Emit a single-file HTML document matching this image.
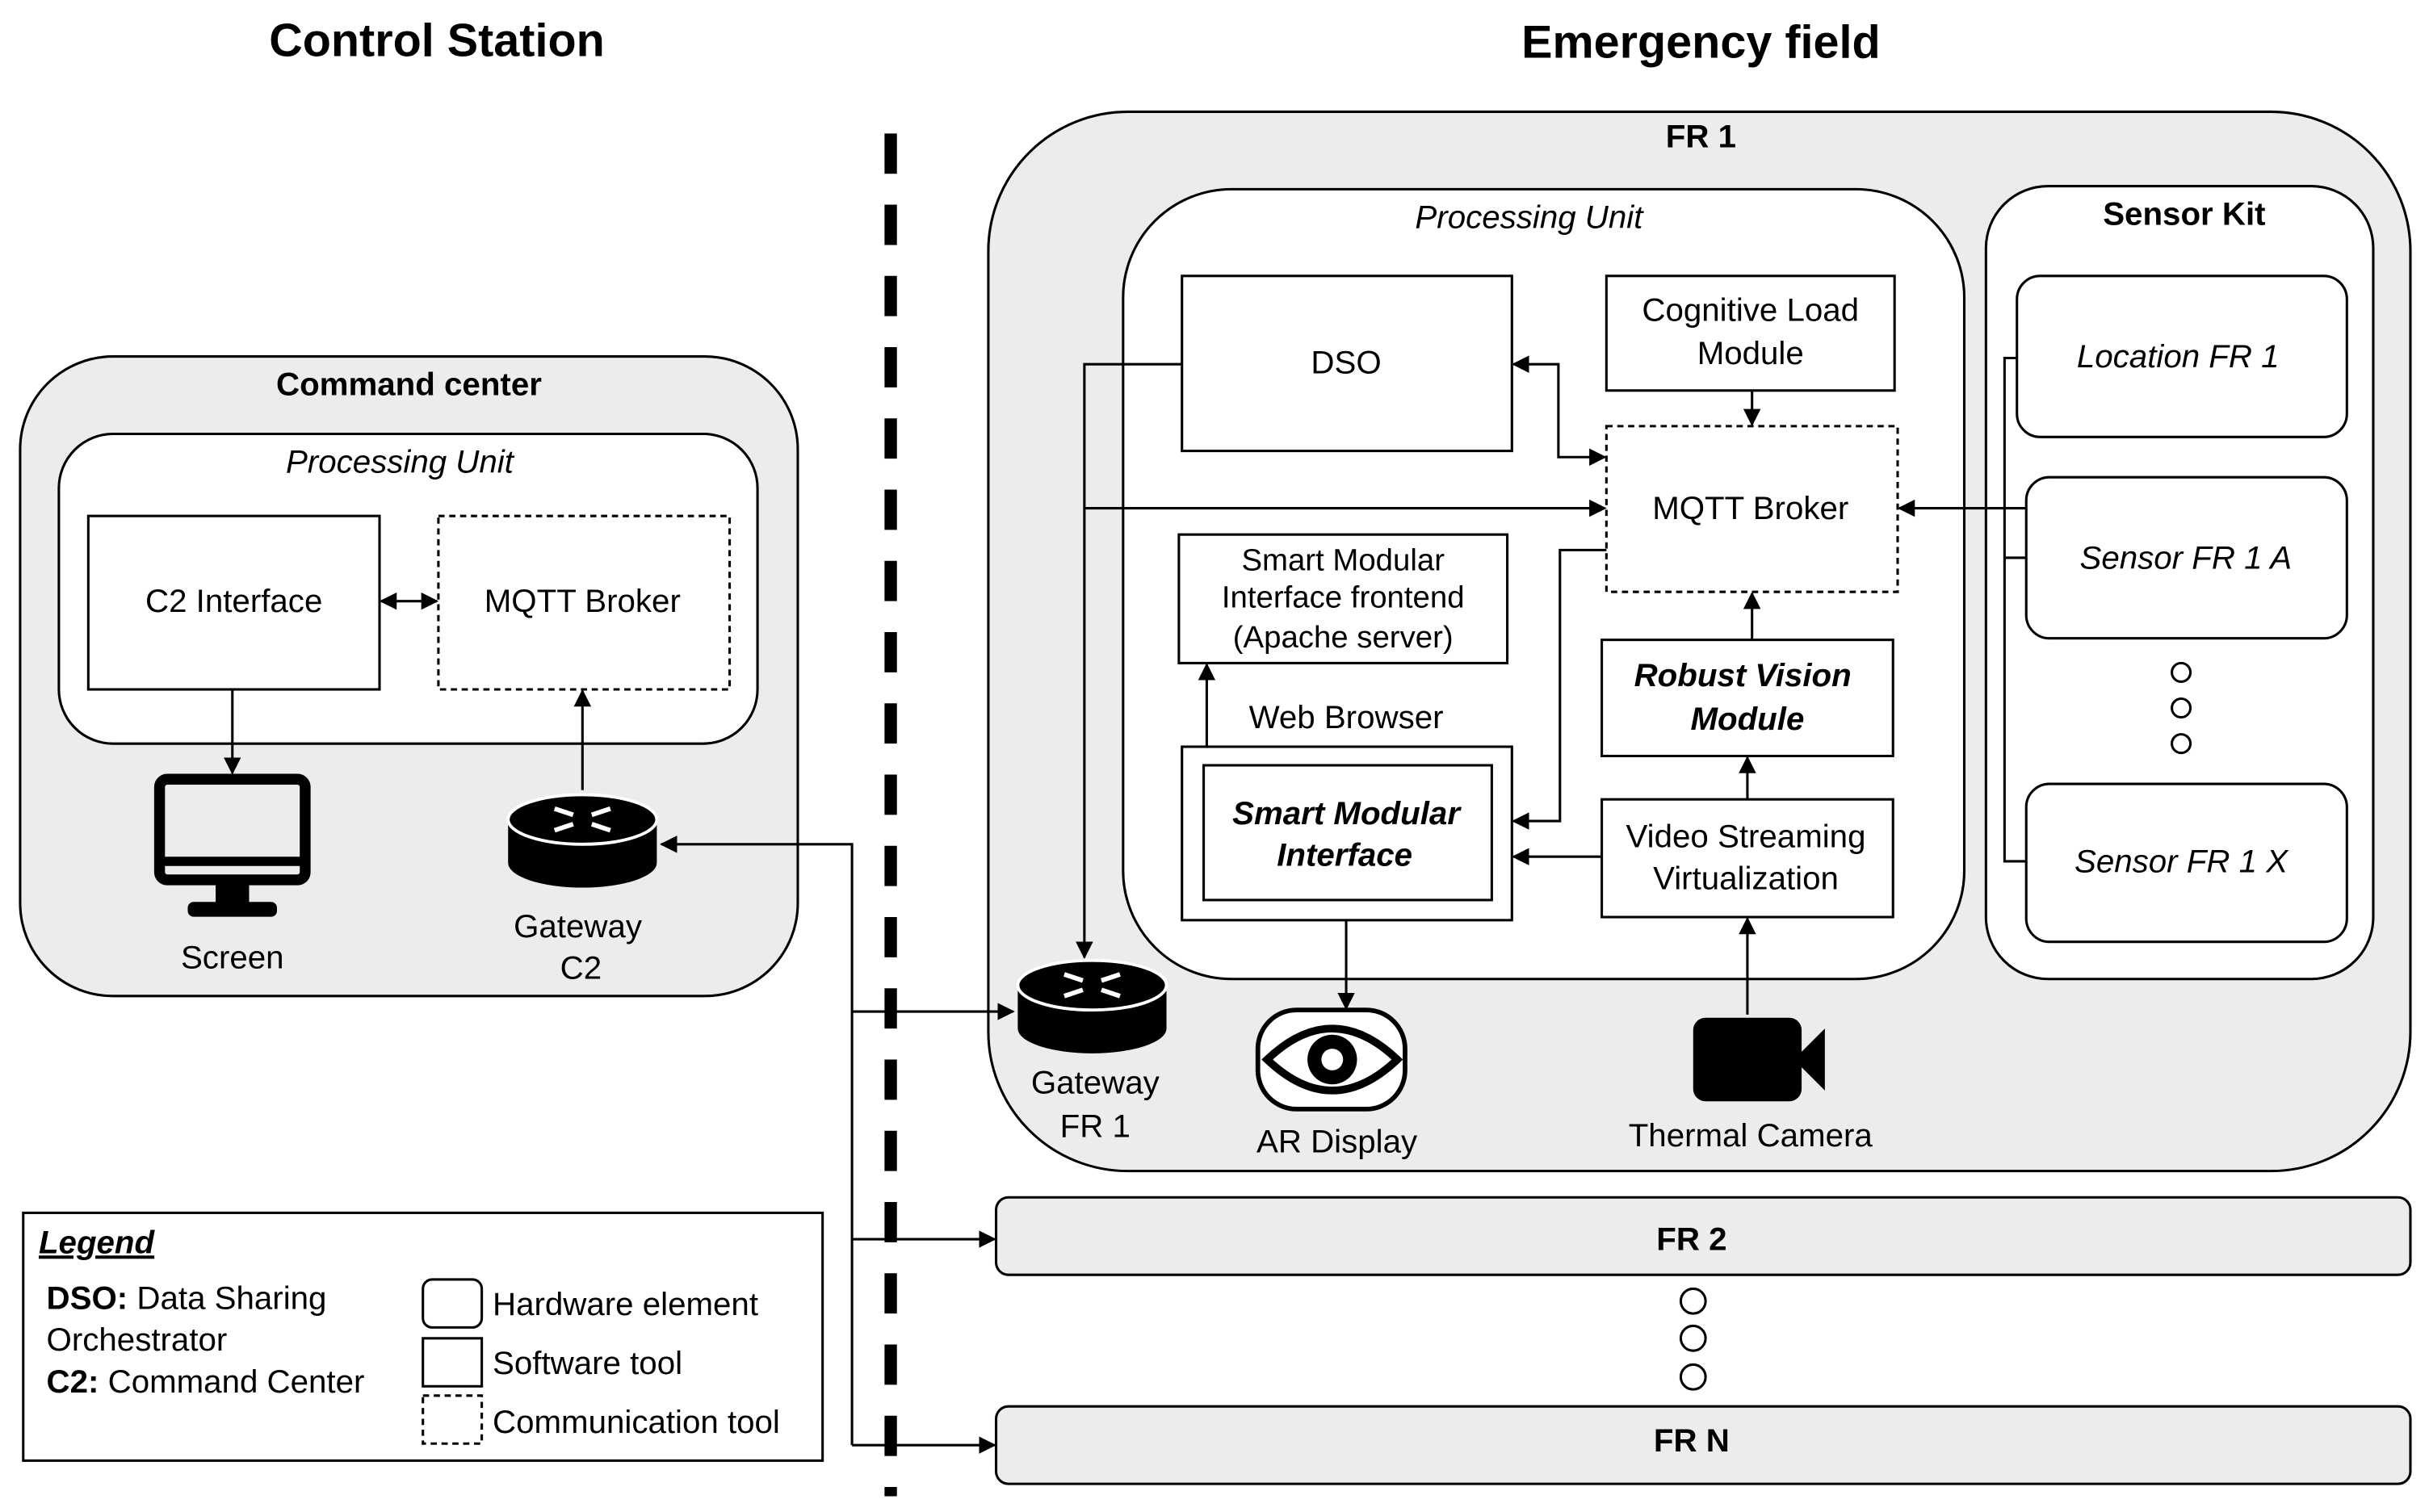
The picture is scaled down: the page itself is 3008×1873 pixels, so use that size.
<!DOCTYPE html>
<html><head><meta charset="utf-8"><style>
html,body{margin:0;padding:0;background:#fff;}
svg{display:block;}
text{font-family:"Liberation Sans",sans-serif;fill:#000;}
</style></head><body>
<svg width="3008" height="1873" viewBox="0 0 1568 976" xmlns="http://www.w3.org/2000/svg">
<defs>
<marker id="a" viewBox="0 0 10 10" refX="9" refY="5" markerWidth="7" markerHeight="7" orient="auto-start-reverse"><path d="M0,0 L10,5 L0,10 z" fill="#000"/></marker>
<g id="router">
<path d="M0,14 L0,42 A48,16 0 0 0 96,42 L96,14" fill="#000"/>
<ellipse cx="48" cy="14" rx="48" ry="16" fill="#000" stroke="#fff" stroke-width="2"/>
<g stroke="#fff" stroke-width="3" fill="#fff">
<path d="M30,7 L42,11" /><path d="M66,7 L54,11"/><path d="M30,21 L42,17"/><path d="M66,21 L54,17"/>
</g>
</g>
</defs>
<g stroke="#000" stroke-width="1.6" fill="none">

<text x="282" y="36" font-size="30" font-weight="bold" text-anchor="middle" stroke="none">Control Station</text>
<text x="1098" y="37" font-size="30" font-weight="bold" text-anchor="middle" stroke="none">Emergency field</text>

<line x1="575" y1="86" x2="575" y2="966" stroke-width="8" stroke-dasharray="26,20"/>

<rect x="13" y="230" width="502" height="413" rx="60" fill="#ececec"/>
<text x="264" y="255" font-size="21" font-weight="bold" text-anchor="middle" stroke="none">Command center</text>
<rect x="38" y="280" width="451" height="200" rx="35" fill="#fff"/>
<text x="258" y="305" font-size="21" font-style="italic" text-anchor="middle" stroke="none">Processing Unit</text>
<rect x="57" y="333" width="188" height="112" fill="#fff"/>
<text x="151" y="395" font-size="21" text-anchor="middle" stroke="none">C2 Interface</text>
<rect x="283" y="333" width="188" height="112" fill="#fff" stroke-dasharray="4,3"/>
<text x="376" y="395" font-size="21" text-anchor="middle" stroke="none">MQTT Broker</text>
<line x1="246" y1="388" x2="282" y2="388" marker-start="url(#a)" marker-end="url(#a)"/>
<line x1="150" y1="445" x2="150" y2="499" marker-end="url(#a)"/>
<rect x="103" y="503" width="94" height="65" rx="5" stroke-width="7"/>
<line x1="103" y1="556" x2="197" y2="556" stroke-width="6"/>
<rect x="140" y="570" width="20" height="14" fill="#000"/>
<rect x="122" y="583" width="56" height="8" rx="3" fill="#000"/>
<text x="150" y="625" font-size="21" text-anchor="middle" stroke="none">Screen</text>
<use href="#router" x="328" y="515" stroke="none"/>
<text x="373" y="605" font-size="21" text-anchor="middle" stroke="none">Gateway</text>
<text x="375" y="632" font-size="21" text-anchor="middle" stroke="none">C2</text>
<line x1="376" y1="510" x2="376" y2="446" marker-end="url(#a)"/>

<polyline points="550,933 550,545 427,545" marker-end="url(#a)"/>
<line x1="550" y1="800" x2="642" y2="800" marker-end="url(#a)"/>
<line x1="550" y1="933" x2="642" y2="933" marker-end="url(#a)"/>

<rect x="638" y="72" width="918" height="684" rx="90" fill="#ececec"/>
<line x1="550" y1="653" x2="654" y2="653" marker-end="url(#a)"/>
<text x="1098" y="95" font-size="21" font-weight="bold" text-anchor="middle" stroke="none">FR 1</text>
<rect x="725" y="122" width="543" height="510" rx="70" fill="#fff"/>
<text x="987" y="147" font-size="21" font-style="italic" text-anchor="middle" stroke="none">Processing Unit</text>
<rect x="1282" y="120" width="250" height="512" rx="40" fill="#fff"/>
<text x="1410" y="145" font-size="21" font-weight="bold" text-anchor="middle" stroke="none">Sensor Kit</text>
<rect x="1302" y="178" width="213" height="104" rx="15" fill="#fff"/>
<text x="1406" y="237" font-size="21" font-style="italic" text-anchor="middle" stroke="none">Location FR 1</text>
<rect x="1308" y="308" width="207" height="104" rx="15" fill="#fff"/>
<text x="1411" y="367" font-size="21" font-style="italic" text-anchor="middle" stroke="none">Sensor FR 1 A</text>
<circle cx="1408" cy="434" r="6"/><circle cx="1408" cy="457" r="6"/><circle cx="1408" cy="480" r="6"/>
<rect x="1308" y="506" width="207" height="102" rx="15" fill="#fff"/>
<text x="1408" y="563" font-size="21" font-style="italic" text-anchor="middle" stroke="none">Sensor FR 1 X</text>
<polyline points="1302,231 1294,231 1294,556 1308,556"/>
<line x1="1294" y1="360" x2="1308" y2="360"/>
<polyline points="1308,328 1226,328" marker-end="url(#a)"/>

<rect x="763" y="178" width="213" height="113" fill="#fff"/>
<text x="869" y="241" font-size="21" text-anchor="middle" stroke="none">DSO</text>
<rect x="1037" y="178" width="186" height="74" fill="#fff"/>
<text x="1130" y="207" font-size="21" text-anchor="middle" stroke="none">Cognitive Load</text>
<text x="1130" y="235" font-size="21" text-anchor="middle" stroke="none">Module</text>
<line x1="1131" y1="252" x2="1131" y2="274" marker-end="url(#a)"/>
<rect x="1037" y="275" width="188" height="107" fill="#fff" stroke-dasharray="4,3"/>
<text x="1130" y="335" font-size="21" text-anchor="middle" stroke="none">MQTT Broker</text>
<polyline points="1036,295 1006,295 1006,235 977,235" marker-start="url(#a)" marker-end="url(#a)"/>
<line x1="700" y1="328" x2="1036" y2="328" marker-end="url(#a)"/>
<polyline points="763,235 700,235 700,618" marker-end="url(#a)"/>

<rect x="761" y="345" width="212" height="83" fill="#fff"/>
<text x="867" y="368" font-size="20" text-anchor="middle" stroke="none">Smart Modular</text>
<text x="867" y="392" font-size="20" text-anchor="middle" stroke="none">Interface frontend</text>
<text x="867" y="418" font-size="20" text-anchor="middle" stroke="none">(Apache server)</text>
<text x="869" y="470" font-size="21" text-anchor="middle" stroke="none">Web Browser</text>
<rect x="763" y="482" width="213" height="112" fill="#fff"/>
<rect x="777" y="494" width="186" height="87" fill="#fff"/>
<text x="869" y="532" font-size="21" font-weight="bold" font-style="italic" text-anchor="middle" stroke="none">Smart Modular</text>
<text x="868" y="559" font-size="21" font-weight="bold" font-style="italic" text-anchor="middle" stroke="none">Interface</text>
<line x1="779" y1="482" x2="779" y2="429" marker-end="url(#a)"/>
<polyline points="1037,355 1007,355 1007,530 977,530" marker-end="url(#a)"/>

<rect x="1034" y="413" width="188" height="75" fill="#fff"/>
<text x="1125" y="443" font-size="21" font-weight="bold" font-style="italic" text-anchor="middle" stroke="none">Robust Vision</text>
<text x="1128" y="471" font-size="21" font-weight="bold" font-style="italic" text-anchor="middle" stroke="none">Module</text>
<line x1="1131" y1="413" x2="1131" y2="383" marker-end="url(#a)"/>
<rect x="1034" y="516" width="188" height="76" fill="#fff"/>
<text x="1127" y="547" font-size="21" text-anchor="middle" stroke="none">Video Streaming</text>
<text x="1127" y="574" font-size="21" text-anchor="middle" stroke="none">Virtualization</text>
<line x1="1128" y1="516" x2="1128" y2="489" marker-end="url(#a)"/>
<line x1="1034" y1="553" x2="977" y2="553" marker-end="url(#a)"/>

<rect x="1093" y="657" width="70" height="54" rx="8" fill="#000" stroke="none"/>
<path d="M1158,684 L1178,664 L1178,704 z" fill="#000" stroke="none"/>
<line x1="1128" y1="655" x2="1128" y2="593" marker-end="url(#a)"/>
<text x="1130" y="740" font-size="21" text-anchor="middle" stroke="none">Thermal Camera</text>
<rect x="812" y="652" width="95" height="64" rx="25" fill="#fff" stroke-width="3"/>
<path d="M818,684 Q860,644 902,684 Q860,724 818,684 z" fill="#fff" stroke-width="5"/>
<circle cx="860" cy="684" r="16" fill="#000" stroke="none"/>
<circle cx="860" cy="684" r="7" fill="#fff" stroke="none"/>
<line x1="869" y1="594" x2="869" y2="651" marker-end="url(#a)"/>
<text x="863" y="744" font-size="21" text-anchor="middle" stroke="none">AR Display</text>
<use href="#router" x="657" y="622" stroke="none"/>
<text x="707" y="706" font-size="21" text-anchor="middle" stroke="none">Gateway</text>
<text x="707" y="734" font-size="21" text-anchor="middle" stroke="none">FR 1</text>

<rect x="643" y="773" width="913" height="50" rx="8" fill="#ececec"/>
<text x="1092" y="807" font-size="21" font-weight="bold" text-anchor="middle" stroke="none">FR 2</text>
<circle cx="1093" cy="840" r="8"/><circle cx="1093" cy="864" r="8"/><circle cx="1093" cy="889" r="8"/>
<rect x="643" y="908" width="913" height="50" rx="8" fill="#ececec"/>
<text x="1092" y="937" font-size="21" font-weight="bold" text-anchor="middle" stroke="none">FR N</text>

<rect x="15" y="783" width="516" height="160" fill="#fff"/>
<text x="25" y="809" font-size="21" font-weight="bold" font-style="italic" text-decoration="underline" stroke="none">Legend</text>
<text x="30" y="845" font-size="21" stroke="none"><tspan font-weight="bold">DSO:</tspan> Data Sharing</text>
<text x="30" y="872" font-size="21" stroke="none">Orchestrator</text>
<text x="30" y="899" font-size="21" stroke="none"><tspan font-weight="bold">C2:</tspan> Command Center</text>
<rect x="273" y="826" width="38" height="31" rx="6"/>
<rect x="273" y="864" width="38" height="31"/>
<rect x="273" y="901" width="38" height="31" stroke-dasharray="4,3"/>
<text x="318" y="849" font-size="21" stroke="none">Hardware element</text>
<text x="318" y="887" font-size="21" stroke="none">Software tool</text>
<text x="318" y="925" font-size="21" stroke="none">Communication tool</text>
</g>
</svg>
</body></html>
